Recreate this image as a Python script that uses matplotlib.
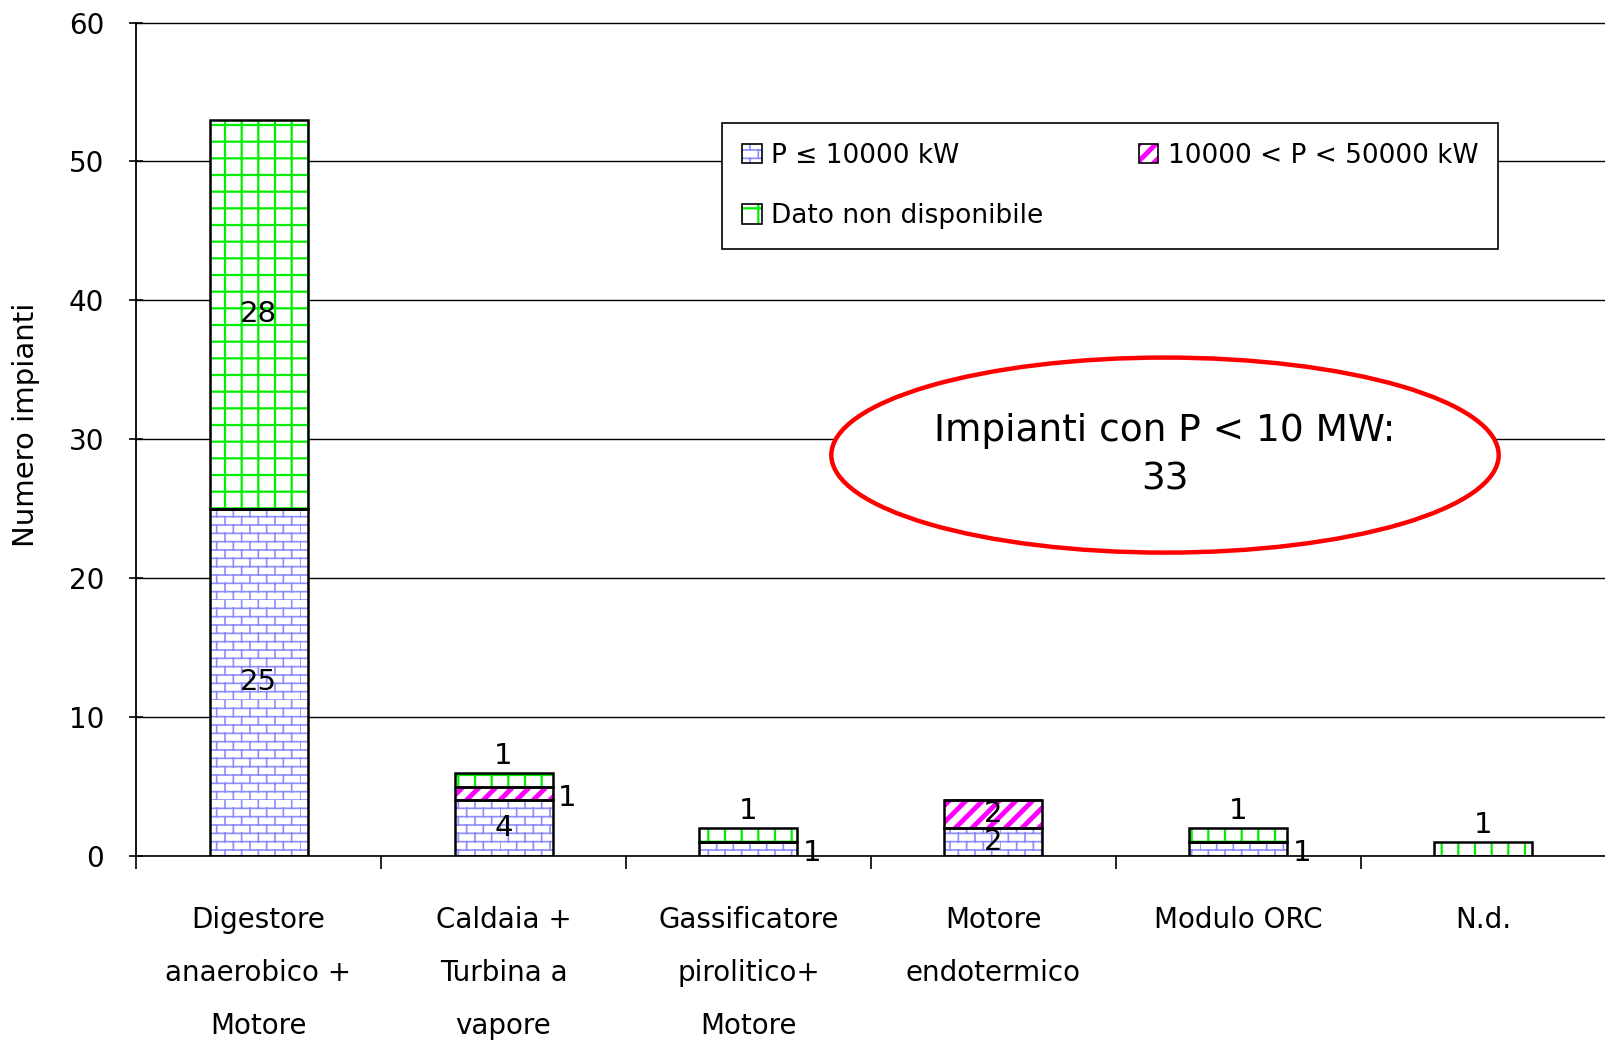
import warnings
warnings.filterwarnings('ignore')
import numpy as np
import matplotlib
matplotlib.use('Agg')
import matplotlib.pyplot as plt
import matplotlib.hatch as mhatch
from matplotlib.patches import Ellipse, Patch
from matplotlib.path import Path
from matplotlib.legend_handler import HandlerPatch

# ---------------- data ----------------
categories = ['Digestore\nanaerobico +\nMotore',
              'Caldaia +\nTurbina a\nvapore',
              'Gassificatore\npirolitico+\nMotore',
              'Motore\nendotermico',
              'Modulo ORC',
              'N.d.']
series_names = ['P ≤ 10000 kW', '10000 < P < 50000 kW', 'Dato non disponibile']
p_small = [25, 4, 1, 2, 1, 0]
p_medium = [0, 1, 0, 2, 0, 0]
p_unknown = [28, 1, 1, 0, 1, 1]
y_ticks = [0, 10, 20, 30, 40, 50, 60]
y_label = 'Numero impianti'
note_text = 'Impianti con P < 10 MW:\n33'

# label placement per segment (style only)
pos_small = ['center', 'center', 'right', 'center', 'right', None]
pos_medium = [None, 'right', None, 'center', None, None]
pos_unknown = ['center', 'above', 'above', None, 'above', 'above']


# ---------------- custom brick hatch ----------------
class BrickHatch(mhatch.HatchPatternBase):
    def __init__(self, hatch, density):
        n = hatch.count('b')
        self.rows = 12 * n
        self.cols = 6
        self.num_vertices = (self.rows * 2 + self.rows * self.cols * 2) if n else 0

    def set_vertices_and_codes(self, vertices, codes):
        k = 0
        for i in range(self.rows):
            y0 = i / self.rows
            y1 = (i + 1) / self.rows
            vertices[k] = (0, y0)
            vertices[k + 1] = (1, y0)
            codes[k] = Path.MOVETO
            codes[k + 1] = Path.LINETO
            k += 2
            off = 0.5 * (i % 2)
            for j in range(self.cols):
                xx = (j + off) / self.cols
                vertices[k] = (xx, y0)
                vertices[k + 1] = (xx, y1)
                codes[k] = Path.MOVETO
                codes[k + 1] = Path.LINETO
                k += 2


mhatch._hatch_types.append(BrickHatch)


class HatchHandler(HandlerPatch):
    def __init__(self, hlw):
        super().__init__()
        self.hlw = hlw

    def create_artists(self, legend, orig_handle, xdescent, ydescent, width,
                       height, fontsize, trans):
        arts = super().create_artists(legend, orig_handle, xdescent, ydescent,
                                      width, height, fontsize, trans)
        for a in arts:
            if hasattr(a, 'set_hatch_linewidth'):
                a.set_hatch_linewidth(self.hlw)
        return arts


plt.rcParams['font.family'] = ['DejaVu Sans']

blue = '#8c8cff'
magenta = '#ff00ff'
green = '#00ee00'

fig = plt.figure(figsize=(16.06, 10.40), dpi=100)
ax = fig.add_axes([136 / 1606, 1 - 856 / 1040, 1 - 136 / 1606, (856 - 22.5) / 1040])

x = np.arange(len(categories))
w = 0.4
b1 = np.zeros(len(x))
b2 = b1 + np.array(p_small)
b3 = b2 + np.array(p_medium)

specs = [
    (p_small, b1, 'b', blue, 1.2, pos_small),
    (p_medium, b2, '//', magenta, 3.5, pos_medium),
    (p_unknown, b3, '+', green, 1.6, pos_unknown),
]
handles = []
hmap = {}
for vals, bottoms, hatch, color, hlw, pos in specs:
    with plt.rc_context({'hatch.linewidth': hlw}):
        bars = ax.bar(x, vals, w, bottom=bottoms, facecolor='white',
                      edgecolor=color, linewidth=0, hatch=hatch, zorder=2)
        for p in bars:
            if hasattr(p, 'set_hatch_linewidth'):
                p.set_hatch_linewidth(hlw)
        hp = Patch(facecolor='white', edgecolor=color, linewidth=0, hatch=hatch)
        if hasattr(hp, 'set_hatch_linewidth'):
            hp.set_hatch_linewidth(hlw)
    hmap[hp] = HatchHandler(hlw)
    ho = Patch(fill=False, edgecolor='black', linewidth=1.2)
    handles.append((hp, ho))
    ax.bar(x, vals, w, bottom=bottoms, fill=False, edgecolor='black',
           linewidth=1.8, zorder=3)
    for xi, v, b, ps in zip(x, vals, bottoms, pos):
        if ps is None or v == 0:
            continue
        if ps == 'center':
            ax.text(xi, b + v / 2, str(v), ha='center', va='center',
                    fontsize=21, zorder=4)
        elif ps == 'right':
            ax.annotate(str(v), (xi + w / 2, b + v / 2), xytext=(4, -3),
                        textcoords='offset points', ha='left', va='center',
                        fontsize=21, zorder=4)
        elif ps == 'above':
            ax.annotate(str(v), (xi, b + v), xytext=(0, 2),
                        textcoords='offset points', ha='center', va='bottom',
                        fontsize=21, zorder=4)

ax.set_xlim(-0.5, len(categories) - 0.5)
ax.set_ylim(0, 60)
ax.set_yticks(y_ticks)
ax.set_xticks(x)
ax.set_xticklabels(categories, fontsize=20, linespacing=2.13)
ax.set_xticks(np.arange(-0.5, len(categories) + 0.5, 1), minor=True)
ax.tick_params(axis='x', which='major', length=0, pad=36)
ax.tick_params(axis='x', which='minor', length=9, width=1.2, direction='out', color='black')
ax.tick_params(axis='y', which='major', length=10, width=1.2, direction='inout',
               labelsize=20, pad=18)

ax.yaxis.grid(True, color='black', linewidth=1.0)
ax.set_axisbelow(True)
for s in ['top', 'right']:
    ax.spines[s].set_visible(False)
ax.spines['left'].set_linewidth(1.3)
ax.spines['bottom'].set_linewidth(1.2)

fig.text(26 / 1606, 1 - 425 / 1040, y_label, rotation=90, ha='center', va='center',
         fontsize=21)

# legend (row 1: first two, row 2: third)
order = [0, 2, 1]
leg = ax.legend([handles[i] for i in order], [series_names[i] for i in order],
                handler_map=hmap,
                ncol=2, loc='upper left', mode='expand',
                bbox_to_anchor=(722 / 1606, 1 - 246 / 1040, 776 / 1606, 123 / 1040),
                bbox_transform=fig.transFigure,
                fontsize=19, frameon=True, fancybox=False, framealpha=1,
                edgecolor='black', handlelength=0.75, handleheight=0.75,
                handletextpad=0.35, labelspacing=1.3, borderpad=0.75,
                borderaxespad=0)
leg.get_frame().set_linewidth(1.2)
leg.set_zorder(6)

el = Ellipse((0.70, 0.481), 0.454, 0.234, transform=ax.transAxes,
             facecolor='white', edgecolor='#ff0000', linewidth=3.2, zorder=7)
ax.add_patch(el)
ax.text(0.70, 0.481, note_text, transform=ax.transAxes, ha='center', va='center',
        fontsize=27, linespacing=1.45, zorder=8)

fig.savefig('out.png', dpi=100)
